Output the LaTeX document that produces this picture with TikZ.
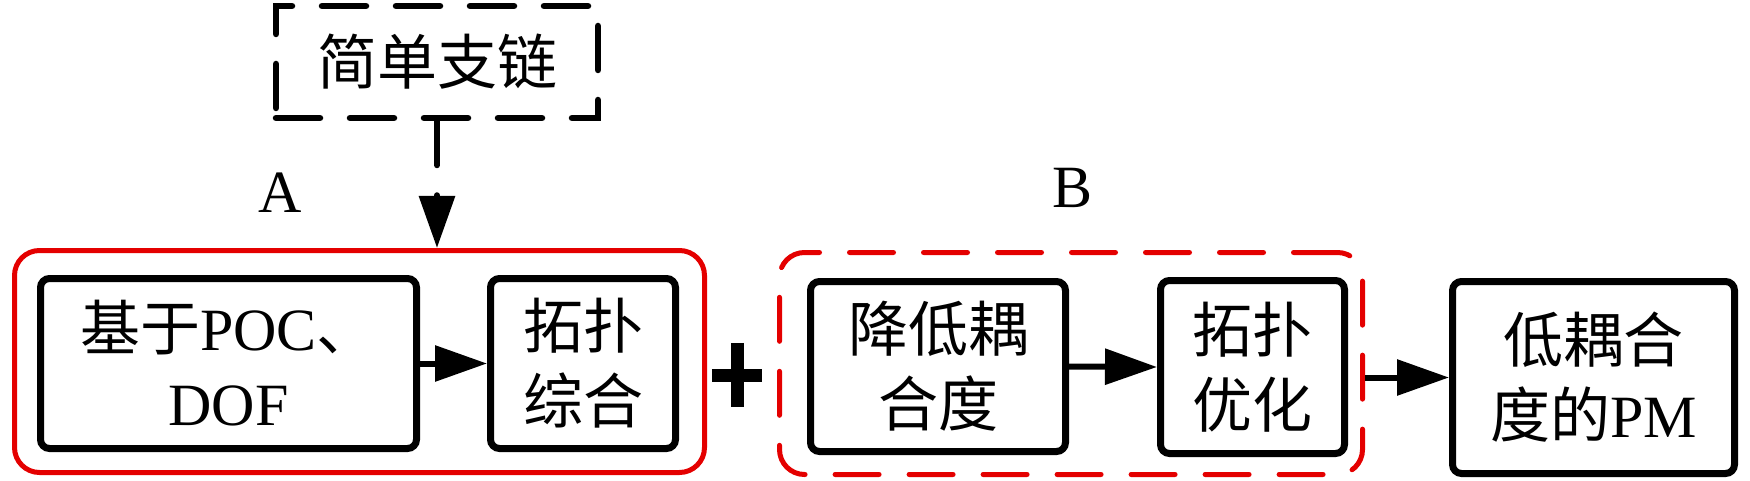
\documentclass[tikz,border=0pt]{standalone}
\usepackage{fontspec}
\setmainfont{Liberation Serif}
\newfontfamily\cjk{Noto Sans CJK SC}
\usetikzlibrary{arrows.meta}
\definecolor{grpred}{RGB}{228,0,0}
\begin{document}
\begin{tikzpicture}[x=1pt,y=-1pt,
  every node/.style={font=\fontsize{60}{75}\selectfont, inner sep=0pt, align=center},
  blk/.style={draw=black, line width=7pt, rounded corners=9pt},
  grp/.style={draw=grpred, line width=5pt, rounded corners=25pt},
  dsh/.style={line cap=round, dash pattern=on 44pt off 30pt},
  conn/.style={draw=black, line width=6pt, -{Triangle[length=52pt,width=35pt]}}
]
\useasboundingbox (0,0) rectangle (1750,481);
% dashed input box
\node[draw=black, line width=6.5pt, dsh, minimum width=322pt, minimum height=112pt] (chain) at (437,62) {{\cjk 简单支链}};
% group A
\node[grp, minimum width=690pt, minimum height=222pt] (redA) at (359.5,361.5) {};
\node[blk, minimum width=376pt, minimum height=170pt] (b1) at (228.5,363.5) {{\cjk 基于}POC{\cjk 、}\\DOF};
\node[blk, minimum width=185pt, minimum height=170pt] (b2) at (583,363.5) {{\cjk 拓扑}\\{\cjk 综合}};
\node (la) at (280,193) {A};
% group B
\node[grp, dsh, minimum width=583pt, minimum height=222pt] (redB) at (1071,363.5) {};
\node[blk, minimum width=255pt, minimum height=170pt] (b3) at (938,366.5) {{\cjk 降低耦}\\{\cjk 合度}};
\node[blk, minimum width=184pt, minimum height=173pt] (b4) at (1252.5,367) {{\cjk 拓扑}\\{\cjk 优化}};
\node (lb) at (1072,188) {B};
% result
\node[blk, minimum width=282pt, minimum height=192pt] (b5) at (1593.5,377.5) {{\cjk 低耦合}\\{\cjk 度的}PM};
% plus sign
\node[minimum width=50pt, minimum height=64pt] (plus) at (737,375) {};
\draw[line width=13pt] (plus.west) -- (plus.east) (plus.north) -- (plus.south);
% connectors
\draw[conn, dsh] (chain.south) -- (chain.south |- redA.north);
\draw[conn] (b1.east) -- (b2.west);
\draw[conn] (b3.east) -- (b4.west);
\draw[conn] (b5.west -| redB.east) -- (b5.west);
\end{tikzpicture}
\end{document}
